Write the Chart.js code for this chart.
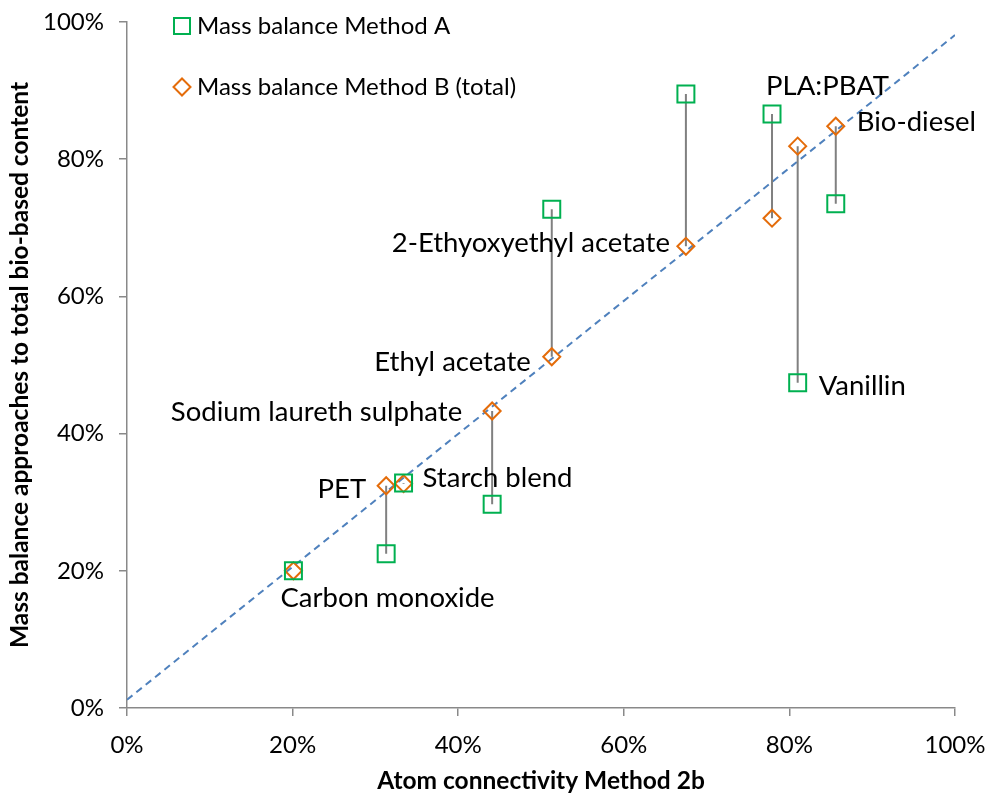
<!DOCTYPE html>
<html>
<head>
<meta charset="utf-8">
<script src="https://cdn.jsdelivr.net/npm/chart.js@4.4.1/dist/chart.umd.min.js"></script>
<style>
  html, body { margin: 0; padding: 0; background: #fff; }
  canvas { display: block; }
</style>
</head>
<body>
<canvas id="myChart" width="989" height="796"></canvas>
<script>
(function () {
  'use strict'

  // compounds and their bio-based content estimates (fractions)
  var compounds = [
    'Carbon monoxide',
    'PET',
    'Starch blend',
    'Sodium laureth sulphate',
    'Ethyl acetate',
    '2-Ethyoxyethyl acetate',
    'PLA:PBAT',
    'Vanillin',
    'Bio-diesel'
  ]
  var atomConnectivity = [0.201, 0.313, 0.334, 0.441, 0.513, 0.675, 0.779, 0.810, 0.856]
  var methodA = [0.200, 0.225, 0.328, 0.297, 0.727, 0.895, 0.866, 0.474, 0.735]
  var methodB = [0.200, 0.324, 0.327, 0.433, 0.512, 0.673, 0.714, 0.819, 0.848]

  // dashed trend line end points
  var trendX = [0, 1]
  var trendY = [0.012, 0.981]

  var tickLabels = ['0%', '20%', '40%', '60%', '80%', '100%']

  var green = '#00B050'
  var orange = '#E46C0A'
  var grey = '#898989'
  var fontFamily = 'Lato, "Liberation Sans", sans-serif'

  // where each compound's name sits next to its marker
  var labelPlacement = [
    { on: 1, dx: -13, dy: 27, align: 'left' },
    { on: 1, dx: -20, dy: 3, align: 'right' },
    { on: 1, dx: 19, dy: -6, align: 'left' },
    { on: 1, dx: -30, dy: 1, align: 'right' },
    { on: 1, dx: -21, dy: 5, align: 'right' },
    { on: 1, dx: -16, dy: -3, align: 'right' },
    { on: 0, dx: -6, dy: -28, align: 'left' },
    { on: 0, dx: 21, dy: 3, align: 'left' },
    { on: 1, dx: 21, dy: -4, align: 'left' }
  ]

  function pts (xs, ys) {
    return xs.map(function (x, i) { return { x: x, y: ys[i] } })
  }

  // vertical connectors between the two methods, broken with nulls
  var connectors = []
  atomConnectivity.forEach(function (x, i) {
    connectors.push({ x: x, y: methodA[i] })
    connectors.push({ x: x, y: methodB[i] })
    connectors.push({ x: x, y: null })
  })

  var nameLabels = {
    id: 'nameLabels',
    afterDatasetsDraw: function (chart) {
      var ctx = chart.ctx
      ctx.save()
      ctx.font = '27.5px ' + fontFamily
      ctx.fillStyle = '#000'
      ctx.textBaseline = 'middle'
      compounds.forEach(function (name, i) {
        var p = labelPlacement[i]
        var el = chart.getDatasetMeta(p.on).data[i]
        ctx.textAlign = p.align
        ctx.fillText(name, el.x + p.dx, el.y + p.dy)
      })
      ctx.restore()
    }
  }

  var legendBox = {
    id: 'legendBox',
    afterDraw: function (chart) {
      var ctx = chart.ctx
      var a = chart.chartArea
      var mx = a.left + 55
      var ay = a.top + 4
      var by = a.top + 65
      ctx.save()
      ctx.lineWidth = 2
      ctx.strokeStyle = green
      ctx.strokeRect(mx - 8, ay - 8, 16, 16)
      ctx.strokeStyle = orange
      ctx.beginPath()
      ctx.moveTo(mx - 8.5, by)
      ctx.lineTo(mx, by - 8.5)
      ctx.lineTo(mx + 8.5, by)
      ctx.lineTo(mx, by + 8.5)
      ctx.closePath()
      ctx.stroke()
      ctx.font = '24px ' + fontFamily
      ctx.fillStyle = '#000'
      ctx.textBaseline = 'middle'
      ctx.fillText('Mass balance Method A', mx + 15, ay)
      ctx.fillText('Mass balance Method B (total)', mx + 15, by)
      ctx.restore()
    }
  }

  var tickFont = { family: fontFamily, size: 24 }
  var titleFont = { family: fontFamily, size: 24.5, weight: 'bold' }

  var ctx = document.getElementById('myChart')
  // eslint-disable-next-line no-unused-vars
  var myChart = new Chart(ctx, {
    type: 'scatter',
    data: {
      datasets: [{
        label: 'Mass balance Method A',
        data: pts(atomConnectivity, methodA),
        pointStyle: 'rect',
        pointRadius: 12,
        borderColor: green,
        backgroundColor: 'rgba(0,0,0,0)',
        pointBorderWidth: 2
      }, {
        label: 'Mass balance Method B (total)',
        data: pts(atomConnectivity, methodB),
        pointStyle: 'rectRot',
        pointRadius: 8.5,
        borderColor: orange,
        backgroundColor: 'rgba(0,0,0,0)',
        pointBorderWidth: 2
      }, {
        label: 'connectors',
        data: connectors,
        showLine: true,
        spanGaps: false,
        pointRadius: 0,
        borderColor: '#808080',
        borderWidth: 2
      }, {
        label: 'trend',
        data: pts(trendX, trendY),
        showLine: true,
        pointRadius: 0,
        borderColor: '#4F81BD',
        borderWidth: 2,
        borderDash: [7, 5]
      }]
    },
    options: {
      responsive: false,
      animation: false,
      layout: { padding: { top: 22, right: 34, left: 0, bottom: 0 } },
      plugins: {
        legend: { display: false },
        tooltip: { enabled: false }
      },
      scales: {
        x: {
          type: 'linear',
          min: 0,
          max: 1,
          afterFit: function (s) {
            s.height = 88
            s.paddingLeft = 0
            s.paddingRight = 0
          },
          ticks: {
            stepSize: 0.2,
            padding: 15,
            color: '#000',
            font: tickFont,
            callback: function (v, i) { return tickLabels[i] }
          },
          grid: { drawOnChartArea: false, tickLength: 8, color: grey, lineWidth: 1.5 },
          border: { color: grey, width: 1.5 },
          title: {
            display: true,
            text: 'Atom connectivity Method 2b',
            color: '#000',
            font: titleFont,
            padding: { top: 0, bottom: 0 }
          }
        },
        y: {
          type: 'linear',
          min: 0,
          max: 1,
          afterFit: function (s) {
            s.width = 127
            s.paddingTop = 0
            s.paddingBottom = 0
          },
          ticks: {
            stepSize: 0.2,
            padding: 15,
            color: '#000',
            font: tickFont,
            callback: function (v, i) { return tickLabels[i] }
          },
          grid: { drawOnChartArea: false, tickLength: 8, color: grey, lineWidth: 1.5 },
          border: { color: grey, width: 1.5 },
          title: {
            display: true,
            text: 'Mass balance approaches to total bio-based content',
            color: '#000',
            font: titleFont,
            padding: { top: 5, bottom: 0 }
          }
        }
      }
    },
    plugins: [nameLabels, legendBox]
  })
}())
</script>
</body>
</html>
